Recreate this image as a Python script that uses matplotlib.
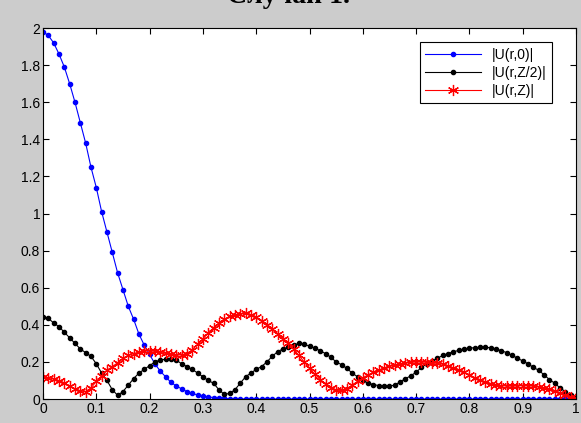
import numpy as np
import matplotlib
matplotlib.use('Agg')
import matplotlib.pyplot as plt

# radial grid, step 0.01
r = np.linspace(0, 1, 101)

# |U(r,0)|
u0 = [1.98, 1.96, 1.92, 1.86, 1.79, 1.70, 1.60, 1.49, 1.38, 1.25,
      1.14, 1.01, 0.90, 0.79, 0.68, 0.59, 0.50, 0.43, 0.35, 0.29,
      0.24, 0.19, 0.15, 0.12, 0.09, 0.07, 0.055, 0.04, 0.03, 0.022,
      0.016, 0.011, 0.008, 0.005, 0.003, 0.002, 0.001, 0.001, 0.0, 0.0,
      0.0, 0.0, 0.0, 0.0, 0.0, 0.0, 0.0, 0.0, 0.0, 0.0,
      0.0, 0.0, 0.0, 0.0, 0.0, 0.0, 0.0, 0.0, 0.0, 0.0,
      0.0, 0.0, 0.0, 0.0, 0.0, 0.0, 0.0, 0.0, 0.0, 0.0,
      0.0, 0.0, 0.0, 0.0, 0.0, 0.0, 0.0, 0.0, 0.0, 0.0,
      0.0, 0.0, 0.0, 0.0, 0.0, 0.0, 0.0, 0.0, 0.0, 0.0,
      0.0, 0.0, 0.0, 0.0, 0.0, 0.0, 0.0, 0.0, 0.0, 0.0,
      0.0]

# |U(r,Z/2)|
u_half = [0.44, 0.435, 0.41, 0.39, 0.36, 0.33, 0.30, 0.27, 0.25, 0.23,
          0.19, 0.14, 0.10, 0.05, 0.02, 0.04, 0.075, 0.11, 0.14, 0.16,
          0.18, 0.20, 0.21, 0.215, 0.215, 0.21, 0.19, 0.175, 0.16, 0.14,
          0.12, 0.10, 0.085, 0.05, 0.025, 0.03, 0.05, 0.085, 0.12, 0.14,
          0.16, 0.175, 0.20, 0.23, 0.255, 0.27, 0.28, 0.29, 0.30, 0.295,
          0.285, 0.275, 0.26, 0.245, 0.225, 0.20, 0.185, 0.165, 0.14, 0.12,
          0.10, 0.085, 0.078, 0.072, 0.07, 0.07, 0.075, 0.093, 0.11, 0.125,
          0.145, 0.17, 0.19, 0.205, 0.22, 0.235, 0.245, 0.255, 0.262, 0.268,
          0.274, 0.277, 0.278, 0.278, 0.277, 0.27, 0.26, 0.25, 0.235, 0.22,
          0.205, 0.19, 0.17, 0.155, 0.13, 0.105, 0.085, 0.06, 0.04, 0.02,
          0.005]

# |U(r,Z)|
u_end = [0.12, 0.115, 0.108, 0.098, 0.085, 0.07, 0.055, 0.043, 0.04, 0.06,
         0.095, 0.125, 0.155, 0.175, 0.195, 0.22, 0.235, 0.245, 0.252, 0.258,
         0.26, 0.257, 0.252, 0.246, 0.24, 0.237, 0.238, 0.245, 0.265, 0.295,
         0.325, 0.355, 0.385, 0.41, 0.43, 0.445, 0.453, 0.46, 0.462, 0.455,
         0.442, 0.42, 0.40, 0.375, 0.35, 0.325, 0.30, 0.27, 0.235, 0.20,
         0.165, 0.135, 0.105, 0.08, 0.058, 0.047, 0.046, 0.055, 0.075, 0.095,
         0.115, 0.13, 0.145, 0.155, 0.168, 0.176, 0.183, 0.19, 0.195, 0.198,
         0.20, 0.20, 0.197, 0.195, 0.192, 0.188, 0.178, 0.167, 0.155, 0.143,
         0.132, 0.115, 0.102, 0.09, 0.08, 0.075, 0.072, 0.07, 0.07, 0.071,
         0.072, 0.072, 0.07, 0.065, 0.06, 0.052, 0.042, 0.032, 0.02, 0.012,
         0.003]

labels = ['|U(r,0)|', '|U(r,Z/2)|', '|U(r,Z)|']
xticks = np.arange(0, 1.01, 0.1)
yticks = np.arange(0, 2.01, 0.2)

plt.rcParams['font.family'] = ['Liberation Sans', 'DejaVu Sans']

fig = plt.figure(figsize=(5.81, 4.23), dpi=100, facecolor='#cccccc')
ax = fig.add_axes([0.0740, 0.0567, 0.9175, 0.8770])
ax.set_facecolor('white')

# asterisk marker like matlab '*'
ast = (6, 2, 0)
ax.plot(r, u0, '-', color='blue', lw=0.8, marker='.', ms=6, label=labels[0])
ax.plot(r, u_half, '-', color='black', lw=0.8, marker='.', ms=6, label=labels[1])
ax.plot(r, u_end, '-', color='red', lw=0.8, marker=ast, ms=8, mew=0.9, label=labels[2])

ax.set_xlim(0, 1)
ax.set_ylim(0, 2)
ax.set_xticks(xticks)
ax.set_xticklabels(['0', '0.1', '0.2', '0.3', '0.4', '0.5', '0.6', '0.7', '0.8', '0.9', '1'])
ax.set_yticks(yticks)
ax.set_yticklabels(['0', '0.2', '0.4', '0.6', '0.8', '1', '1.2', '1.4', '1.6', '1.8', '2'])
ax.tick_params(direction='in', top=True, right=True, length=4, width=0.8,
               labelsize=10, pad=2)
for s in ax.spines.values():
    s.set_linewidth(0.8)

leg = ax.legend(loc='upper right', bbox_to_anchor=(0.968, 0.981), fontsize=10,
                fancybox=False, framealpha=1, edgecolor='black',
                handlelength=4, borderpad=0.4, labelspacing=0.3)
leg.get_frame().set_linewidth(0.8)

# title is clipped by the top edge, as in the source image
fig.text(0.496, 0.993, 'Случай 1.', ha='center', va='baseline',
         family='Liberation Serif', fontsize=20, fontweight='bold')

fig.savefig('out.png', dpi=100, facecolor=fig.get_facecolor())
